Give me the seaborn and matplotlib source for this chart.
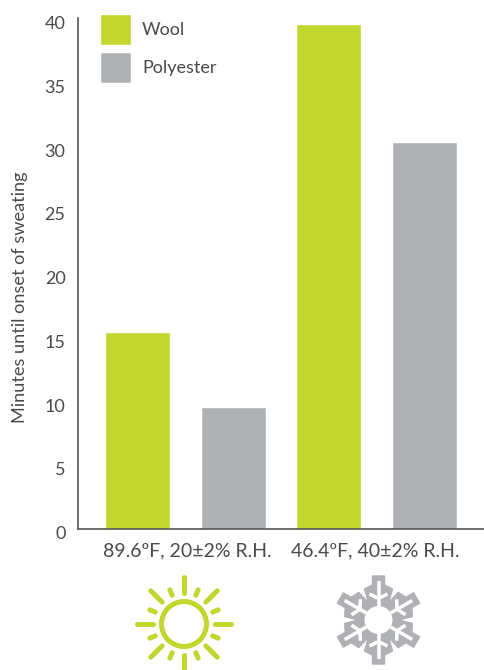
import numpy as np
import pandas as pd
import matplotlib
matplotlib.use("Agg")
import matplotlib.pyplot as plt
from matplotlib.patches import Circle, Polygon
from matplotlib.transforms import ScaledTranslation
import seaborn as sns

# values
conditions = ["89.6\u00baF, 20\u00b12% R.H.", "46.4\u00baF, 40\u00b12% R.H."]
wool = [15.38, 39.55]
polyester = [9.5, 30.3]
y_ticks = [0, 5, 10, 15, 20, 25, 30, 35, 40]

GREEN = "#c2d72e"
GREY = "#b0b1b4"
TEXT = "#4a4a4a"

sns.set_style("white")
plt.rcParams["font.family"] = ["Lato", "DejaVu Sans"]

df = pd.DataFrame({
    "condition": conditions * 2,
    "fabric": ["Wool"] * 2 + ["Polyester"] * 2,
    "minutes": wool + polyester,
})

fig = plt.figure(figsize=(4.84, 6.7), dpi=100)
ax = fig.add_axes([78 / 484, (670 - 528.5) / 670, 406 / 484, 510.5 / 670])

sns.barplot(data=df, x="condition", y="minutes", hue="fabric",
            palette={"Wool": GREEN, "Polyester": GREY},
            width=1.0, gap=0.32, saturation=1, ax=ax)

ax.set_xlim(-0.563, 1.563)
ax.set_ylim(0, 40.04)
ax.set_yticks(y_ticks)
ax.set_xlabel("")
ax.set_ylabel("Minutes until onset of sweating", fontsize=13.1, color=TEXT)
ax.yaxis.set_label_coords(28 / 484, 1 - 297 / 670, transform=fig.transFigure)
ax.tick_params(axis="y", length=0, pad=9, labelsize=13, labelcolor=TEXT)
ax.tick_params(axis="x", length=0, pad=10, labelsize=14, labelcolor=TEXT)

# the numbers sit a little under their tick positions
shift = ScaledTranslation(0, -4 / 100, fig.dpi_scale_trans)
for lab in ax.get_yticklabels():
    lab.set_transform(lab.get_transform() + shift)
x_shifts = [1.5, -1.5]
for lab, dx in zip(ax.get_xticklabels(), x_shifts):
    lab.set_transform(lab.get_transform() + ScaledTranslation(dx / 100, 0, fig.dpi_scale_trans))

for side in ["top", "right"]:
    ax.spines[side].set_visible(False)
for side in ["left", "bottom"]:
    ax.spines[side].set_color("#555555")
    ax.spines[side].set_linewidth(1.2)

handles, labels = ax.get_legend_handles_labels()
ax.legend(handles, labels, loc="upper left", bbox_to_anchor=(100 / 484, 1 - 14 / 670),
          bbox_transform=fig.transFigure, frameon=False, fontsize=13, labelcolor=TEXT,
          borderpad=0, borderaxespad=0, handlelength=1.72, handleheight=2.26,
          handletextpad=0.6, labelspacing=0.39)

# icons under the two groups, in picture pixels
icons = fig.add_axes([0, 0, 1, 1])
icons.set_xlim(0, 484)
icons.set_ylim(670, 0)
icons.axis("off")
lw = 5 * 72 / 100

sun_x, sun_y = 184, 624
icons.add_patch(Circle((sun_x, sun_y), 22.5, fill=False, ec=GREEN, lw=lw))
for deg in range(0, 360, 45):
    a = np.radians(deg)
    icons.plot([sun_x + 31 * np.cos(a), sun_x + 47 * np.cos(a)],
               [sun_y + 31 * np.sin(a), sun_y + 47 * np.sin(a)],
               color=GREEN, lw=lw, solid_capstyle="round")
    b = np.radians(deg + 22.5)
    icons.plot([sun_x + 31 * np.cos(b), sun_x + 37 * np.cos(b)],
               [sun_y + 31 * np.sin(b), sun_y + 37 * np.sin(b)],
               color=GREEN, lw=lw, solid_capstyle="round")

# snowflake: grey silhouette, white slits along the arms, white hole
flake_x, flake_y = 378.5, 620
half_arm = [(44, 6), (35, 6), (31, 14), (19, 10.5)]
arm = [(r, -w) for r, w in half_arm[::-1]] + half_arm
slit_lw = 3.5 * 72 / 100


def to_xy(a, r, w):
    return (flake_x + r * np.cos(a) - w * np.sin(a), flake_y + r * np.sin(a) + w * np.cos(a))


points = []
for k in range(6):
    a = np.radians(-90 + 60 * k)
    points += [to_xy(a, r, w) for r, w in arm]
icons.add_patch(Polygon(points, closed=True, fc=GREY, ec=GREY, lw=1, joinstyle="round"))
for k in range(6):
    a = np.radians(-90 + 60 * k)
    xs, ys = zip(to_xy(a, 39, 0), to_xy(a, 14, 0))
    icons.plot(xs, ys, color="white", lw=slit_lw, solid_capstyle="butt")
    for side in (-1, 1):
        xs, ys = zip(to_xy(a, 22, side * 1), to_xy(a, 26, side * 9))
        icons.plot(xs, ys, color="white", lw=slit_lw, solid_capstyle="butt")
icons.add_patch(Circle((flake_x, flake_y), 14, fc="white", ec="none"))

fig.savefig("out.png", dpi=100)
